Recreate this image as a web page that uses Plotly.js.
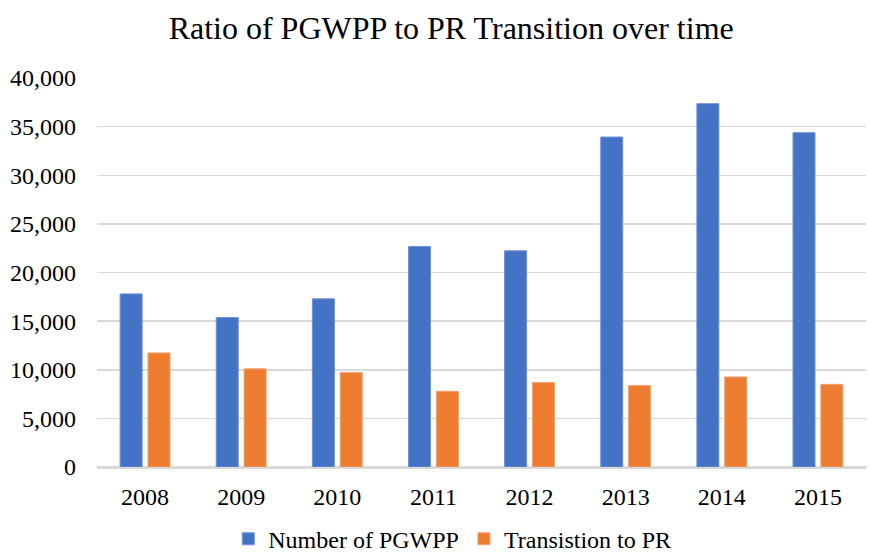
<!DOCTYPE html>
<html><head><meta charset="utf-8">
<script src="https://cdn.plot.ly/plotly-3.0.1.min.js"></script>
<style>html,body{margin:0;padding:0;background:#fff}#chart{width:871px;height:557px}</style>
</head><body><div id="chart"></div>
<script>
const years = ['2008','2009','2010','2011','2012','2013','2014','2015'];
const pgwpp = [17800, 15370, 17290, 22680, 22230, 33930, 37360, 34380];
const transition = [11730, 10090, 9710, 7780, 8680, 8370, 9260, 8500];
const tickVals = [0,5000,10000,15000,20000,25000,30000,35000,40000];
const FONT = '"Liberation Serif", "Times New Roman", Times, serif';

const traces = [
  {type:'bar', name:'Number of PGWPP', x:years, y:pgwpp,
   marker:{color:'#4472C4', line:{color:'#6f93d6', width:1}}},
  {type:'bar', name:'Transistion to PR', x:years, y:transition,
   marker:{color:'#ED7D31', line:{color:'#f2a070', width:1}}}
];
const layout = {
  width:871, height:557,
  margin:{l:97, r:5, t:78, b:90},
  paper_bgcolor:'#fff', plot_bgcolor:'#fff',
  font:{family:FONT, color:'#000', size:24},
  title:{text:'Ratio of PGWPP to PR Transition over time', x:0.518, xanchor:'center', y:0.95, yanchor:'middle',
         font:{size:32, family:FONT, color:'#000'}},
  barmode:'group', bargap:0.42, bargroupgap:0.21,
  xaxis:{type:'category', showgrid:false, showline:true, linecolor:'#d9d9d9', linewidth:1.5,
         ticks:'', tickfont:{size:24, family:FONT}, ticklabelstandoff:8, automargin:false},
  yaxis:{range:[0,40000], tickvals:tickVals, tickformat:',d', showgrid:true, gridcolor:'#d9d9d9', gridwidth:1.5,
         zeroline:true, zerolinecolor:'#d9d9d9', zerolinewidth:1.5, showline:false, ticks:'', ticklen:0,
         tickfont:{size:24, family:FONT}, automargin:false, ticklabelstandoff:20},
  legend:{orientation:'h', xref:'paper', x:0.462, xanchor:'center', yref:'container', y:0.032, yanchor:'middle',
          font:{size:24, family:FONT}, itemwidth:30, tracegroupgap:0},
  showlegend:true
};
Plotly.newPlot('chart', traces, layout, {displayModeBar:false, staticPlot:true});
</script></body></html>
